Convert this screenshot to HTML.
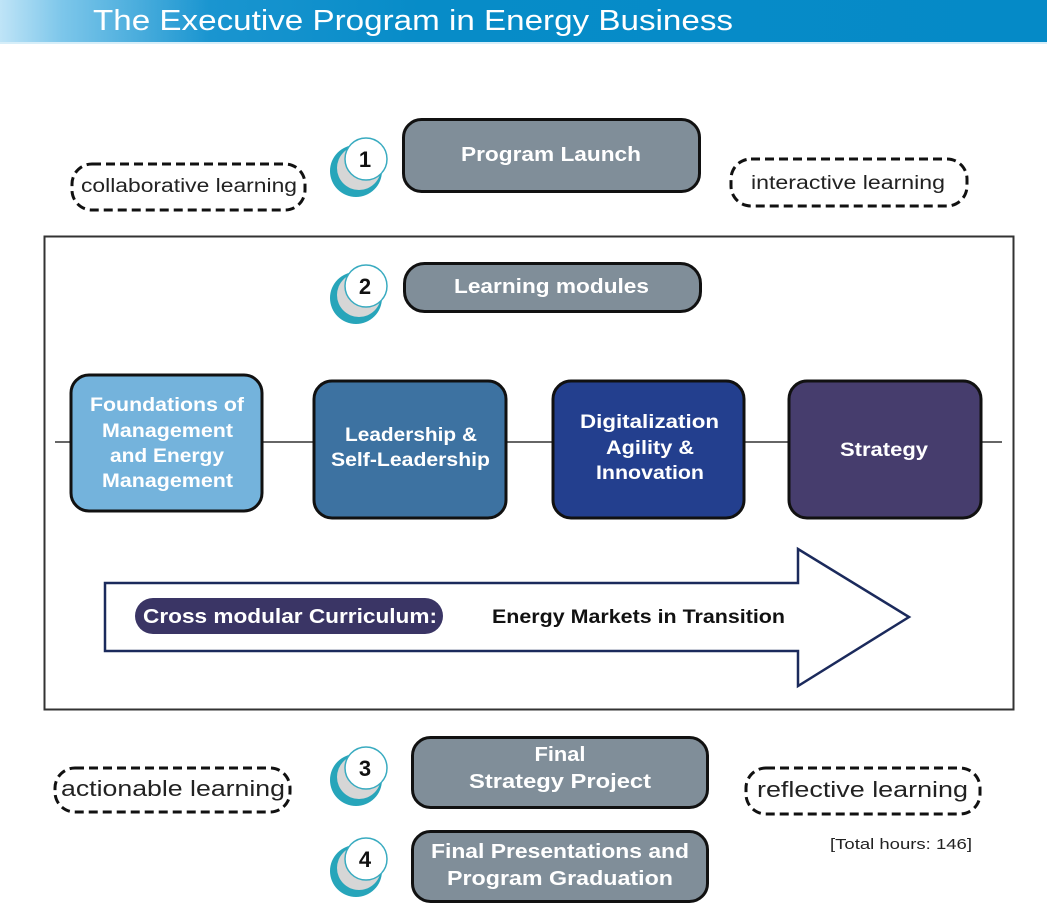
<!DOCTYPE html>
<html>
<head>
<meta charset="utf-8">
<style>
  html,body{margin:0;padding:0;background:#fff;}
  svg{display:block;}
  .b{font-family:"Liberation Sans",sans-serif;font-weight:bold;}
  .n{font-family:"Liberation Sans",sans-serif;font-weight:normal;}
</style>
</head>
<body>
<svg width="1047" height="905" viewBox="0 0 1047 905" xmlns="http://www.w3.org/2000/svg">
  <defs>
    <linearGradient id="hdr" x1="0" y1="0" x2="1" y2="0">
      <stop offset="0" stop-color="#bfe4f7"/>
      <stop offset="0.06" stop-color="#7cc6ea"/>
      <stop offset="0.2" stop-color="#1a95d0"/>
      <stop offset="0.4" stop-color="#078cc8"/>
      <stop offset="1" stop-color="#058ac7"/>
    </linearGradient>
    <g id="ic">
      <circle cx="356" cy="171" r="26" fill="#27a5ba"/>
      <circle cx="359" cy="168" r="22" fill="#d6d6d6"/>
      <circle cx="366" cy="159" r="21" fill="#ffffff" stroke="#39abc0" stroke-width="1.5"/>
    </g>
  </defs>

  <!-- Header -->
  <rect x="0" y="0" width="1047" height="42" fill="url(#hdr)"/>
  <rect x="0" y="42" width="1047" height="2" fill="#d6eef9"/>
  <text x="93" y="30" class="n" font-size="29" fill="#ffffff" textLength="640" lengthAdjust="spacingAndGlyphs">The Executive Program in Energy Business</text>

  <!-- Step 1 -->
  <use href="#ic"/>
  <text x="365" y="167" class="b" font-size="22" fill="#111" text-anchor="middle">1</text>
  <rect x="403.5" y="119.5" width="296" height="72" rx="18" fill="#808e99" stroke="#111" stroke-width="3"/>
  <text x="461" y="161" class="b" font-size="20" fill="#fff" textLength="180" lengthAdjust="spacingAndGlyphs">Program Launch</text>

  <!-- dashed labels top -->
  <rect x="72" y="164" width="233" height="46" rx="20" fill="none" stroke="#111" stroke-width="3" stroke-dasharray="9 5"/>
  <text x="81" y="192" class="n" font-size="19" fill="#222" textLength="216" lengthAdjust="spacingAndGlyphs">collaborative learning</text>
  <rect x="731" y="159" width="236" height="47" rx="20" fill="none" stroke="#111" stroke-width="3" stroke-dasharray="9 5"/>
  <text x="751" y="189" class="n" font-size="19" fill="#222" textLength="194" lengthAdjust="spacingAndGlyphs">interactive learning</text>

  <!-- Big frame -->
  <rect x="44.5" y="236.5" width="969" height="473" fill="none" stroke="#333" stroke-width="2"/>

  <!-- Step 2 -->
  <use href="#ic" transform="translate(0,127)"/>
  <text x="365" y="294" class="b" font-size="22" fill="#111" text-anchor="middle">2</text>
  <rect x="404.5" y="263.5" width="296" height="48" rx="20" fill="#808e99" stroke="#111" stroke-width="3"/>
  <text x="454" y="293" class="b" font-size="20" fill="#fff" textLength="195" lengthAdjust="spacingAndGlyphs">Learning modules</text>

  <!-- connector line -->
  <line x1="55" y1="442" x2="1002" y2="442" stroke="#333" stroke-width="1.5"/>

  <!-- Module boxes -->
  <rect x="71" y="375" width="191" height="136" rx="18" fill="#74b3dc" stroke="#111" stroke-width="3"/>
  <text x="90" y="411" class="b" font-size="19" fill="#fff" textLength="154" lengthAdjust="spacingAndGlyphs">Foundations of</text>
  <text x="102" y="437" class="b" font-size="19" fill="#fff" textLength="131" lengthAdjust="spacingAndGlyphs">Management</text>
  <text x="110" y="462" class="b" font-size="19" fill="#fff" textLength="114" lengthAdjust="spacingAndGlyphs">and Energy</text>
  <text x="102" y="487" class="b" font-size="19" fill="#fff" textLength="131" lengthAdjust="spacingAndGlyphs">Management</text>

  <rect x="314" y="381" width="192" height="137" rx="18" fill="#3d72a1" stroke="#111" stroke-width="3"/>
  <text x="345" y="441" class="b" font-size="19" fill="#fff" textLength="132" lengthAdjust="spacingAndGlyphs">Leadership &amp;</text>
  <text x="331" y="466" class="b" font-size="19" fill="#fff" textLength="159" lengthAdjust="spacingAndGlyphs">Self-Leadership</text>

  <rect x="553" y="381" width="191" height="137" rx="18" fill="#233f8e" stroke="#111" stroke-width="3"/>
  <text x="580" y="428" class="b" font-size="19" fill="#fff" textLength="139" lengthAdjust="spacingAndGlyphs">Digitalization</text>
  <text x="606" y="454" class="b" font-size="19" fill="#fff" textLength="88" lengthAdjust="spacingAndGlyphs">Agility &amp;</text>
  <text x="596" y="479" class="b" font-size="19" fill="#fff" textLength="108" lengthAdjust="spacingAndGlyphs">Innovation</text>

  <rect x="789" y="381" width="192" height="137" rx="18" fill="#463d6d" stroke="#111" stroke-width="3"/>
  <text x="840" y="456" class="b" font-size="19" fill="#fff" textLength="88" lengthAdjust="spacingAndGlyphs">Strategy</text>

  <!-- Arrow -->
  <polygon points="105,583 798,583 798,549 909,617 798,686 798,651 105,651" fill="#fff" stroke="#1b2a5c" stroke-width="2.5" stroke-linejoin="miter"/>
  <rect x="135" y="598" width="308" height="36" rx="18" fill="#3a3565"/>
  <text x="143" y="623" class="b" font-size="20" fill="#fff" textLength="294" lengthAdjust="spacingAndGlyphs">Cross modular Curriculum:</text>
  <text x="492" y="623" class="b" font-size="19" fill="#111" textLength="293" lengthAdjust="spacingAndGlyphs">Energy Markets in Transition</text>

  <!-- Step 3 -->
  <use href="#ic" transform="translate(0,609)"/>
  <text x="365" y="776" class="b" font-size="22" fill="#111" text-anchor="middle">3</text>
  <rect x="412.5" y="737.5" width="295" height="70" rx="18" fill="#808e99" stroke="#111" stroke-width="3"/>
  <text x="560" y="761" class="b" font-size="20" fill="#fff" text-anchor="middle" textLength="51" lengthAdjust="spacingAndGlyphs">Final</text>
  <text x="469" y="788" class="b" font-size="20" fill="#fff" textLength="182" lengthAdjust="spacingAndGlyphs">Strategy Project</text>

  <!-- Step 4 -->
  <use href="#ic" transform="translate(0,700)"/>
  <text x="365" y="867" class="b" font-size="22" fill="#111" text-anchor="middle">4</text>
  <rect x="412.5" y="831.5" width="295" height="70" rx="18" fill="#808e99" stroke="#111" stroke-width="3"/>
  <text x="431" y="858" class="b" font-size="20" fill="#fff" textLength="258" lengthAdjust="spacingAndGlyphs">Final Presentations and</text>
  <text x="447" y="885" class="b" font-size="20" fill="#fff" textLength="226" lengthAdjust="spacingAndGlyphs">Program Graduation</text>

  <!-- dashed labels bottom -->
  <rect x="55" y="768" width="235" height="44" rx="20" fill="none" stroke="#111" stroke-width="3" stroke-dasharray="9 5"/>
  <text x="61" y="796" class="n" font-size="22" fill="#222" textLength="224" lengthAdjust="spacingAndGlyphs">actionable learning</text>
  <rect x="746" y="768" width="234" height="46" rx="20" fill="none" stroke="#111" stroke-width="3" stroke-dasharray="9 5"/>
  <text x="757" y="797" class="n" font-size="22" fill="#222" textLength="211" lengthAdjust="spacingAndGlyphs">reflective learning</text>

  <text x="830" y="849" class="n" font-size="15" fill="#222" textLength="142" lengthAdjust="spacingAndGlyphs">[Total hours: 146]</text>
</svg>
</body>
</html>
